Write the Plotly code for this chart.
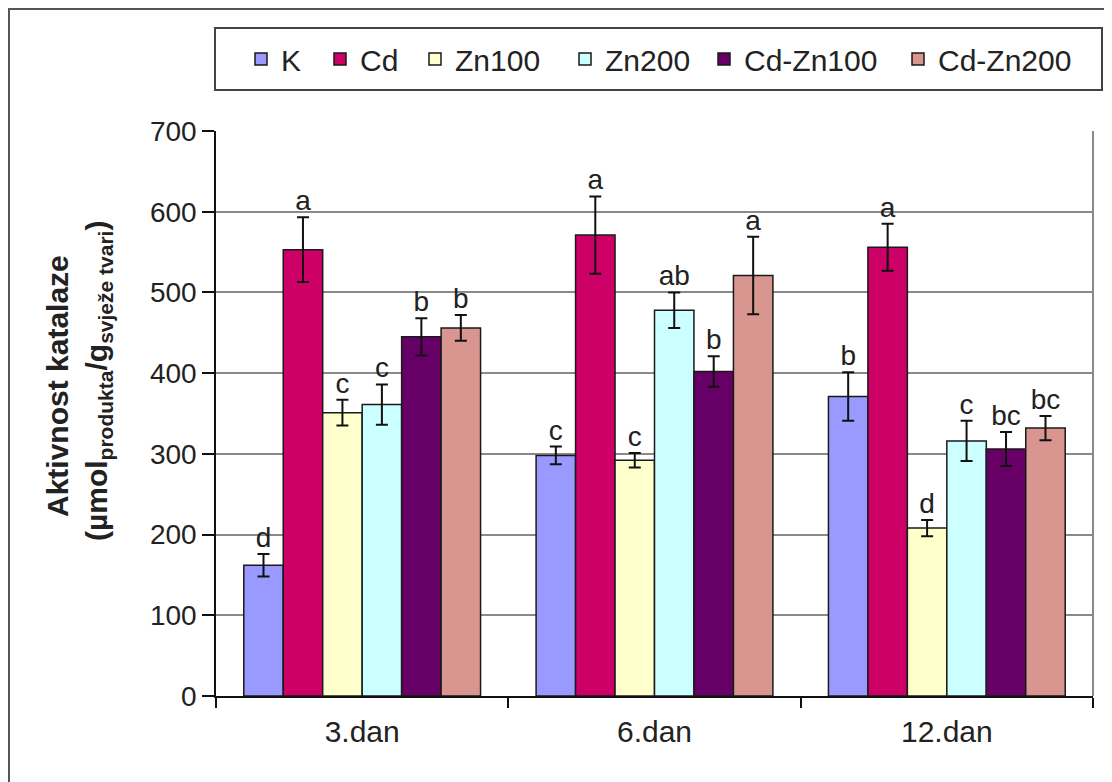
import plotly.graph_objects as go

categories = ["3.dan", "6.dan", "12.dan"]
series_names = ["K", "Cd", "Zn100", "Zn200", "Cd-Zn100", "Cd-Zn200"]
values = {
    "K": [162, 298, 371],
    "Cd": [553, 571, 556],
    "Zn100": [351, 292, 208],
    "Zn200": [361, 478, 316],
    "Cd-Zn100": [445, 402, 306],
    "Cd-Zn200": [456, 521, 332],
}
errors = {
    "K": [14, 11, 30],
    "Cd": [40, 48, 29],
    "Zn100": [16, 9, 10],
    "Zn200": [25, 22, 25],
    "Cd-Zn100": [23, 19, 21],
    "Cd-Zn200": [16, 48, 15],
}
letters = {
    "K": ["d", "c", "b"],
    "Cd": ["a", "a", "a"],
    "Zn100": ["c", "c", "d"],
    "Zn200": ["c", "ab", "c"],
    "Cd-Zn100": ["b", "b", "bc"],
    "Cd-Zn200": ["b", "a", "bc"],
}
colors = ["#9999FF", "#CC0066", "#FFFFCC", "#CCFFFF", "#660066", "#D9958F"]

FONT = "Liberation Sans, Arial, sans-serif"
OFF = 8  # page body margin offset
W, H = 1112 - OFF, 782 - OFF
# reference pixel layout (page coords)
PL, PR, PT, PB = 216, 1093, 131, 696
L, R, T, B = PL - OFF, (W + OFF) - PR, PT - OFF, (H + OFF) - PB
pw, ph = W - L - R, H - T - B


def px_x(x):
    return (x - OFF - L) / pw


def px_y(y):
    return (H - B - (y - OFF)) / ph


# left edge (page px) of each legend entry, one legend per series
legend_left = [241, 320, 415, 565, 704, 898]
legend_ids = ["legend"] + ["legend%d" % (k + 2) for k in range(len(series_names) - 1)]

fig = go.Figure()
for i, name in enumerate(series_names):
    fig.add_trace(go.Bar(
        name=name, x=categories, y=values[name],
        marker=dict(color=colors[i], line=dict(color="#1a1a1a", width=1.5)),
        error_y=dict(type="data", array=errors[name], color="#111111",
                     thickness=2, width=6),
        offsetgroup=str(i), legend=legend_ids[i],
    ))
for i, name in enumerate(series_names):
    tops = [v + e for v, e in zip(values[name], errors[name])]
    fig.add_trace(go.Scatter(
        x=categories, y=tops, text=letters[name], mode="text",
        textposition="top center", offsetgroup=str(i),
        textfont=dict(size=28, color="#222222", family=FONT),
        showlegend=False, hoverinfo="skip",
    ))

shapes = [
    # outer chart border
    dict(type="rect", xref="paper", yref="paper",
         x0=px_x(9), x1=px_x(1130), y0=px_y(800), y1=px_y(9),
         line=dict(color="#555555", width=2), fillcolor="rgba(0,0,0,0)", layer="below"),
    # legend border
    dict(type="rect", xref="paper", yref="paper",
         x0=px_x(215), x1=px_x(1102), y0=px_y(90), y1=px_y(28),
         line=dict(color="#444444", width=2), fillcolor="rgba(0,0,0,0)"),
    # right plot border
    dict(type="line", xref="paper", yref="paper",
         x0=1, x1=1, y0=0, y1=1, line=dict(color="#8a8a8a", width=2)),
]

annotations = [
    dict(text="<b>Aktivnost katalaze</b>", textangle=-90, xref="paper", yref="paper",
         x=px_x(57), y=px_y(386), xanchor="center", yanchor="middle", showarrow=False,
         font=dict(size=30, color="#222222", family=FONT)),
    dict(text="<b>(µmol<sub>produkta</sub>/g<sub>svježe tvari</sub>)</b>", textangle=-90,
         xref="paper", yref="paper",
         x=px_x(98), y=px_y(381), xanchor="center", yanchor="middle", showarrow=False,
         font=dict(size=30, color="#222222", family=FONT)),
]

legend_layout = {}
for lid, lx in zip(legend_ids, legend_left):
    legend_layout[lid] = dict(
        orientation="h", x=px_x(lx), y=px_y(59), xanchor="left", yanchor="middle",
        font=dict(size=30, family=FONT, color="#222222"),
        bgcolor="rgba(0,0,0,0)", borderwidth=0, itemwidth=30,
    )

fig.update_layout(
    width=W, height=H,
    margin=dict(l=L, r=R, t=T, b=B, autoexpand=False),
    paper_bgcolor="white", plot_bgcolor="white",
    barmode="group", bargap=0.19, bargroupgap=0,
    scattermode="group", scattergap=0.19,
    font=dict(family=FONT, color="#222222"),
    showlegend=True,
    shapes=shapes, annotations=annotations,
    xaxis=dict(type="category", showline=True, linecolor="#111111", linewidth=1.5,
               ticks="outside", tickson="boundaries", ticklen=10, tickcolor="#111111",
               tickwidth=1.5, tickfont=dict(size=30, family=FONT, color="#222222"),
               ticklabelstandoff=8, showgrid=False),
    yaxis=dict(range=[0, 700], dtick=100, showline=True, linecolor="#111111", linewidth=1.5,
               ticks="outside", ticklen=12, tickcolor="#111111", tickwidth=1.5,
               tickfont=dict(size=28, family=FONT, color="#222222"),
               showgrid=True, gridcolor="#8a8a8a", gridwidth=1.5, zeroline=False),
    **legend_layout,
)

fig.write_html("out.html")
